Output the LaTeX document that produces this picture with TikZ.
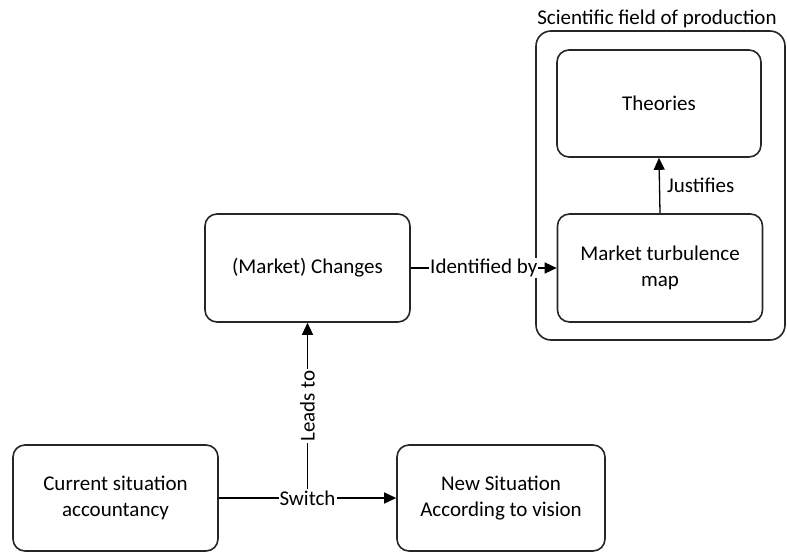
\documentclass[tikz,border=0pt]{standalone}
\usepackage{fontspec}
\setmainfont{Carlito}
\usetikzlibrary{arrows.meta}
\begin{document}
\begin{tikzpicture}[x=1pt,y=-1pt,
  font=\fontsize{21}{26}\selectfont,
  box/.style={draw=black!85, line width=1.6pt, rounded corners=12pt, align=center, inner sep=0pt},
  conn/.style={draw=black, line width=1.3pt},
  arr/.style={conn, -{Triangle[length=12pt,width=11pt]}},
  lbl/.style={fill=white, inner sep=1pt}]
\useasboundingbox (0,0) rectangle (787,552);
% outer group
\node[box, rounded corners=15pt, minimum width=249pt, minimum height=309pt] (field) at (660.5,185.5) {};
\node[anchor=base, inner sep=0pt] (fieldlbl) at (657,24) {Scientific field of production};
% boxes
\node[box, minimum width=204pt, minimum height=107pt] (theo) at (659,103.5) {Theories};
\node[box, minimum width=205pt, minimum height=108pt] (map) at (660,268) {Market turbulence\\map};
\node[box, minimum width=205pt, minimum height=108pt] (chg) at (307.5,268) {(Market) Changes};
\node[box, minimum width=205pt, minimum height=106pt] (cur) at (115.5,498) {Current situation\\accountancy};
\node[box, minimum width=208pt, minimum height=106pt] (new) at (501,498) {New Situation\\According to vision};
% connectors
\draw[arr] (map.north) -- node[right=7pt, inner sep=0pt] {Justifies} (theo.south);
\draw[arr] (chg.east) -- node[lbl] {Identified by} (map.west);
\draw[arr] (cur.east) -- node[lbl, pos=0.5] (sw) {Switch} (new.west);
\draw[arr] (sw.north) -- node[lbl, rotate=90] {Leads to} (chg.south);
\end{tikzpicture}
\end{document}
